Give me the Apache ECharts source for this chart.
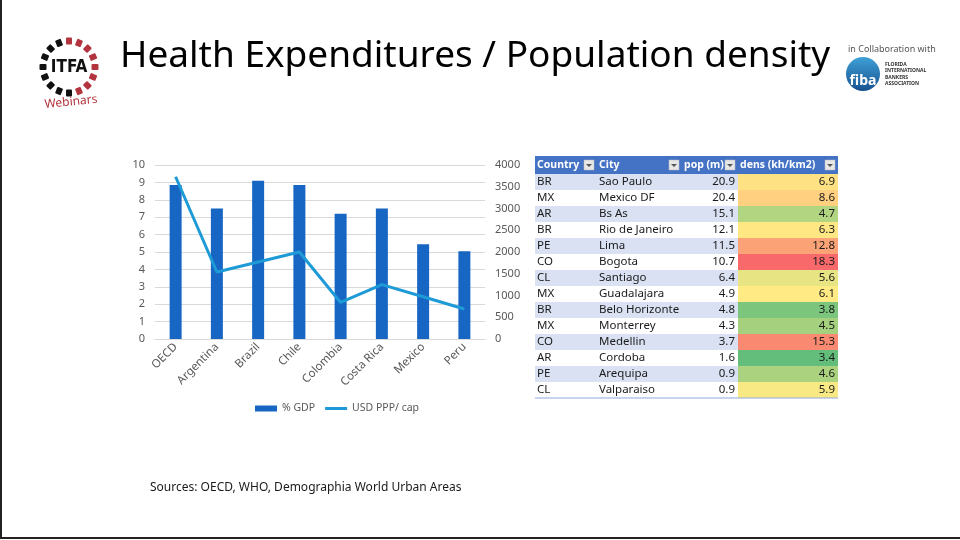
<!DOCTYPE html>
<html>
<head>
<meta charset="utf-8">
<script src="https://cdn.jsdelivr.net/npm/echarts@6/dist/echarts.min.js"></script>
<style>
    html, body { margin: 0; padding: 0; background: #fff; }
    #main { width: 960px; height: 540px; }
</style>
</head>
<body>
<div id="main"></div>
<script>
// chart data
const categories = ['OECD', 'Argentina', 'Brazil', 'Chile', 'Colombia', 'Costa Rica', 'Mexico', 'Peru']
const gdpShare = [8.85, 7.5, 9.1, 8.85, 7.2, 7.5, 5.45, 5.05]
const usdPerCap = [3730, 1540, 1770, 2000, 840, 1250, 970, 690]

// table data
const tableHeader = ['Country', 'City', 'pop (m)', 'dens (kh/km2)']
const countries = ['BR', 'MX', 'AR', 'BR', 'PE', 'CO', 'CL', 'MX', 'BR', 'MX', 'CO', 'AR', 'PE', 'CL']
const cities = ['Sao Paulo', 'Mexico DF', 'Bs As', 'Rio de Janeiro', 'Lima', 'Bogota', 'Santiago', 'Guadalajara', 'Belo Horizonte', 'Monterrey', 'Medellin', 'Cordoba', 'Arequipa', 'Valparaiso']
const population = [20.9, 20.4, 15.1, 12.1, 11.5, 10.7, 6.4, 4.9, 4.8, 4.3, 3.7, 1.6, 0.9, 0.9]
const density = [6.9, 8.6, 4.7, 6.3, 12.8, 18.3, 5.6, 6.1, 3.8, 4.5, 15.3, 3.4, 4.6, 5.9]

const chartInstance = echarts.init(document.getElementById('main'))
const font = 'Noto Sans'
const axisColor = '#595959'

// excel-like 3 colour scale: min green, median yellow, max red
const mix = (a, b, t) => {
    const pa = [1, 3, 5].map(i => parseInt(a.substr(i, 2), 16))
    const pb = [1, 3, 5].map(i => parseInt(b.substr(i, 2), 16))
    return 'rgb(' + pa.map((v, i) => Math.round(v + (pb[i] - v) * t)).join(',') + ')'
}
const sorted = density.slice().sort((a, b) => a - b)
const dMin = sorted[0]
const dMax = sorted[sorted.length - 1]
const dMid = (sorted[6] + sorted[7]) / 2
const densColor = (v) => {
    if (v <= dMid) return mix('#63BE7B', '#FFEB84', (v - dMin) / (dMid - dMin))
    return mix('#FFEB84', '#F8696B', (v - dMid) / (dMax - dMid))
}

// table built as graphic elements
const tableLeft = 535
const colX = [535, 597, 682, 738, 838]
const headTop = 156
const headH = 18
const rowH = 16
const tableGraphic = []
tableGraphic.push({
    type: 'rect', shape: { x: tableLeft, y: headTop, width: colX[4] - tableLeft, height: headH },
    style: { fill: '#4472C4' }
})
tableHeader.forEach((h, i) => {
    tableGraphic.push({
        type: 'text', x: colX[i] + 2, y: headTop + headH / 2,
        style: { text: h, fill: '#fff', font: 'bold 10.5px ' + font, verticalAlign: 'middle' }
    })
    // filter button
    tableGraphic.push({
        type: 'rect', shape: { x: colX[i + 1] - 13, y: headTop + 4, width: 10, height: 10 },
        style: { fill: '#E7E7E7', stroke: '#B8B8B8', lineWidth: 0.5 }
    })
    tableGraphic.push({
        type: 'polygon', shape: { points: [[colX[i + 1] - 11, headTop + 8], [colX[i + 1] - 5, headTop + 8], [colX[i + 1] - 8, headTop + 11]] },
        style: { fill: '#555' }
    })
})
countries.forEach((c, r) => {
    const y = headTop + headH + r * rowH
    tableGraphic.push({
        type: 'rect', shape: { x: tableLeft, y: y, width: colX[3] - tableLeft, height: rowH },
        style: { fill: r % 2 === 0 ? '#D9E1F2' : '#FFFFFF' }
    })
    tableGraphic.push({
        type: 'rect', shape: { x: colX[3], y: y, width: colX[4] - colX[3], height: rowH },
        style: { fill: densColor(density[r]) }
    })
    const cells = [c, cities[r], population[r].toFixed(1), density[r].toFixed(1)]
    cells.forEach((t, i) => {
        const right = i >= 2
        tableGraphic.push({
            type: 'text', x: right ? colX[i + 1] - 3 : colX[i] + 2, y: y + rowH / 2,
            style: { text: t, fill: '#1a1a1a', font: '11.5px ' + font, align: right ? 'right' : 'left', verticalAlign: 'middle' }
        })
    })
})
tableGraphic.push({
    type: 'line', shape: { x1: tableLeft, y1: headTop + headH + 14 * rowH, x2: colX[4], y2: headTop + headH + 14 * rowH },
    style: { stroke: '#8EA9DB', lineWidth: 1 }
})

// ITFA logo ring
const logoGraphic = []
const cx = 69, cy = 67, rad = 26
for (let k = 0; k < 16; k++) {
    const a = k / 16 * Math.PI * 2
    logoGraphic.push({
        type: 'rect', x: cx + Math.cos(a) * rad, y: cy + Math.sin(a) * rad, rotation: -a,
        shape: { x: -3.5, y: -3, width: 7, height: 6, r: 1 },
        style: { fill: (Math.cos(a) > 0.2 || (Math.sin(a) < -0.6 && Math.cos(a) > -0.1)) ? '#B3343E' : '#111' }
    })
}
logoGraphic.push({
    type: 'text', x: cx, y: cy + 1, style: { text: 'ITFA', fill: '#111', font: 'bold 17px "Liberation Sans Narrow", "DejaVu Sans Condensed", sans-serif', align: 'center', verticalAlign: 'middle' }
})
logoGraphic.push({
    type: 'text', x: cx + 2, y: 102, rotation: 0.1, style: { text: 'Webinars', fill: '#B3343E', font: '12px ' + font, align: 'center', verticalAlign: 'middle' }
})

// fiba logo
const fibaGraphic = [
    { type: 'text', x: 848, y: 49, style: { text: 'in Collaboration with', fill: '#555', font: '9px ' + font, verticalAlign: 'middle' } },
    { type: 'circle', shape: { cx: 863, cy: 74, r: 17 }, style: { fill: new echarts.graphic.LinearGradient(0, 0, 0, 1, [{ offset: 0, color: '#3FA0D8' }, { offset: 1, color: '#17528F' }]) } },
    { type: 'text', x: 863, y: 81, style: { text: 'fiba', fill: '#fff', font: 'bold 14px ' + font, align: 'center', verticalAlign: 'middle' } },
    { type: 'text', x: 885, y: 74, style: { text: 'FLORIDA\nINTERNATIONAL\nBANKERS\nASSOCIATION', fill: '#333', font: 'bold 5px ' + font, verticalAlign: 'middle', lineHeight: 6.5 } }
]

const option = {
    animation: false,
    backgroundColor: '#fff',
    textStyle: { fontFamily: font },
    grid: { left: 155, right: 475, top: 165, bottom: 201 },
    legend: {
        left: 250,
        top: 398,
        itemGap: 10,
        itemWidth: 22,
        itemHeight: 6,
        textStyle: { color: axisColor, fontSize: 10.5 },
        data: [
            { name: '% GDP', icon: 'rect' },
            { name: 'USD PPP/ cap', icon: 'path://M0,0 L22,0 L22,3 L0,3 Z' }
        ]
    },
    xAxis: {
        type: 'category',
        data: categories,
        axisLine: { lineStyle: { color: '#D9D9D9' } },
        axisTick: { show: false },
        axisLabel: { color: axisColor, fontSize: 11.5, rotate: 45, margin: 6, interval: 0 }
    },
    yAxis: [
        {
            type: 'value', min: 0, max: 10, interval: 1,
            axisLabel: { color: axisColor, fontSize: 11, margin: 10 },
            splitLine: { lineStyle: { color: '#D9D9D9' } }
        },
        {
            type: 'value', min: 0, max: 4000, interval: 500,
            axisLabel: { color: axisColor, fontSize: 11, margin: 10, formatter: (v) => String(v) },
            splitLine: { show: false }
        }
    ],
    series: [
        {
            name: '% GDP', type: 'bar', data: gdpShare, barWidth: 12,
            itemStyle: { color: '#1766C3' }
        },
        {
            name: 'USD PPP/ cap', type: 'line', yAxisIndex: 1, data: usdPerCap,
            symbol: 'none', lineStyle: { width: 3, color: '#1E9BD6' }, itemStyle: { color: '#1E9BD6' }
        }
    ],
    graphic: [
        { type: 'line', shape: { x1: 1, y1: 0, x2: 1, y2: 538 }, style: { stroke: '#222', lineWidth: 2 } },
        { type: 'line', shape: { x1: 0, y1: 538, x2: 960, y2: 538 }, style: { stroke: '#222', lineWidth: 2 } },
        {
            type: 'text', x: 120, y: 56,
            style: { text: 'Health Expenditures / Population density', fill: '#000', font: '37px ' + font, verticalAlign: 'middle' }
        },
        {
            type: 'text', x: 150, y: 488,
            style: { text: 'Sources: OECD, WHO, Demographia World Urban Areas', fill: '#1a1a1a', font: '12px ' + font, verticalAlign: 'middle' }
        }
    ].concat(tableGraphic, logoGraphic, fibaGraphic)
}
chartInstance.setOption(option)
</script>
</body>
</html>
